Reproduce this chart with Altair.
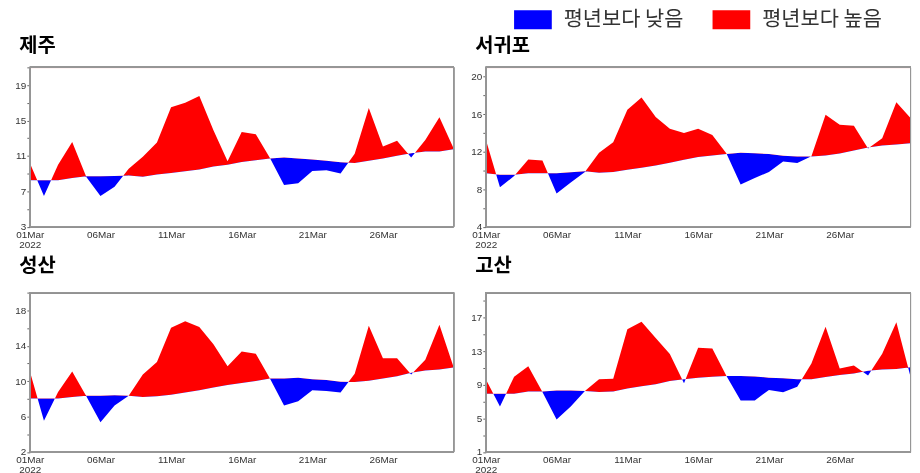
import altair as alt
import pandas as pd

# ---- data ----
days = list(range(1, 32))
dates = [f"2022-03-{d:02d}" for d in days]

stations = ["제주", "서귀포", "성산", "고산"]

obs_jeju = [10.2, 6.45, 10.0, 12.55, 8.6, 6.45, 7.5, 9.55, 10.9, 12.5, 16.5, 17.0, 17.75, 13.9, 10.4,
            13.7, 13.45, 10.75, 7.7, 7.9, 9.3, 9.37, 9.0, 11.25, 16.4, 12.05, 12.7, 10.8, 12.8, 15.35, 11.85]
norm_jeju = [8.25, 8.25, 8.25, 8.5, 8.7, 8.7, 8.73, 8.77, 8.65, 8.9, 9.07, 9.25, 9.45, 9.8, 10.0,
             10.3, 10.5, 10.7, 10.8, 10.7, 10.6, 10.45, 10.27, 10.2, 10.45, 10.7, 11.0, 11.3, 11.5, 11.5, 11.75]

obs_seogwipo = [13.29, 8.2, 9.4, 11.17, 11.06, 7.53, 8.7, 9.83, 11.88, 13.0, 16.47, 17.78, 15.7, 14.46, 14.0,
                14.46, 13.78, 11.8, 8.49, 9.19, 9.83, 10.96, 10.78, 11.5, 15.94, 14.88, 14.77, 12.34, 13.43, 17.28, 15.59]
norm_seogwipo = [9.69, 9.55, 9.55, 9.69, 9.69, 9.69, 9.8, 9.9, 9.76, 9.83, 10.08, 10.29, 10.53, 10.82, 11.14,
                 11.42, 11.6, 11.74, 11.88, 11.84, 11.74, 11.56, 11.49, 11.49, 11.6, 11.8, 12.12, 12.44, 12.65, 12.76, 12.9]

obs_seongsan = [11.12, 5.53, 8.77, 11.08, 8.3, 5.35, 7.25, 8.33, 10.74, 12.16, 16.03, 16.77, 16.1, 14.17, 11.67,
                13.35, 13.09, 10.3, 7.25, 7.73, 8.96, 8.88, 8.7, 10.82, 16.25, 12.57, 12.57, 10.74, 12.42, 16.36, 11.6]
norm_seongsan = [8.03, 8.03, 8.03, 8.21, 8.33, 8.33, 8.4, 8.33, 8.21, 8.29, 8.47, 8.7, 8.96, 9.29, 9.55,
                 9.78, 10.0, 10.3, 10.3, 10.37, 10.22, 10.11, 9.93, 9.89, 10.04, 10.3, 10.56, 10.93, 11.19, 11.3, 11.53]

obs_gosan = [9.65, 6.42, 9.96, 11.22, 8.15, 4.85, 6.42, 8.27, 9.65, 9.73, 15.62, 16.53, 14.6, 12.67, 9.18,
             13.42, 13.34, 10.04, 7.13, 7.13, 8.39, 8.11, 8.78, 11.53, 15.94, 10.94, 11.3, 10.12, 12.71, 16.45, 9.96]
norm_gosan = [7.92, 7.92, 7.92, 8.19, 8.19, 8.31, 8.31, 8.27, 8.15, 8.19, 8.55, 8.82, 9.06, 9.45, 9.65,
              9.84, 9.96, 10.04, 10.04, 10.0, 9.84, 9.77, 9.65, 9.65, 9.92, 10.16, 10.36, 10.67, 10.83, 10.9, 11.1]

y_min = [3, 4, 2, 1]
y_max = [21, 21, 20, 20]
tick_days = [1, 6, 11, 16, 21, 26]

legend_labels = ["평년보다 낮음", "평년보다 높음"]
legend_colors = ["#0000ff", "#ff0000"]

series = [(obs_jeju, norm_jeju), (obs_seogwipo, norm_seogwipo),
          (obs_seongsan, norm_seongsan), (obs_gosan, norm_gosan)]

LABEL_FONT = "Liberation Sans"
KFONT = "Noto Sans CJK KR"

color_scale = alt.Scale(domain=legend_labels, range=legend_colors)
legend = alt.Legend(
    title=None, orient="none", legendX=488, legendY=-67, direction="horizontal",
    symbolType="M-1,-0.5H1V0.5H-1Z", symbolSize=1444, symbolStrokeWidth=0, symbolOpacity=1,
    labelFont=KFONT, labelFontSize=21, labelColor="#333333", labelOffset=12, columnPadding=29,
)


def panel(i, width, title_offset):
    obs, norm = series[i]
    lo, hi = y_min[i], y_max[i]
    df = pd.DataFrame({"date": dates, "obs": obs, "norm": norm})
    xdom = [alt.DateTime(year=2022, month=3, date=1, utc=True),
            alt.DateTime(year=2022, month=3, date=31, utc=True)]
    xaxis = alt.Axis(
        values=[alt.DateTime(year=2022, month=3, date=d, utc=True) for d in tick_days],
        labelExpr="utcdate(datum.value) == 1 ? [utcFormat(datum.value, '%d%b'), '2022'] : utcFormat(datum.value, '%d%b')",
        ticks=False, domain=False, grid=False, labelFlush=False, labelOverlap=False,
        labelFont=LABEL_FONT, labelFontSize=10, labelColor="#333333", labelPadding=3, labelLineHeight=10,
    )
    labeled = f"(datum.value - {lo}) % 4 == 0"
    yaxis = alt.Axis(
        values=list(range(lo, hi + 1, 2)),
        labelExpr=f"{labeled} ? datum.label : ''",
        labelFontSize={"condition": {"test": labeled, "value": 10}, "value": 0},
        domain=False, grid=False, tickSize=3, tickColor="#666666",
        labelOverlap=False, labelSeparation=0,
        labelFont=LABEL_FONT, labelColor="#333333", labelPadding=1,
    )
    x = alt.X("date:T", scale=alt.Scale(type="utc", domain=xdom, nice=False), axis=xaxis, title=None)
    ysc = alt.Scale(domain=[lo, hi], nice=False, zero=False)
    base = alt.Chart(df).encode(x=x)
    # the band between observed and normal (both lobes), then coloured by which side of normal it lies
    band = base.mark_area(color="black").encode(
        y=alt.Y("obs:Q", scale=ysc, axis=yaxis, title=None), y2="norm:Q")
    above = base.transform_calculate(kind=f"'{legend_labels[1]}'").mark_area(blend="lighten").encode(
        y=alt.Y("norm:Q", scale=ysc, axis=yaxis, title=None), y2=alt.Y2(datum=hi),
        color=alt.Color("kind:N", scale=color_scale, legend=legend))
    below = base.transform_calculate(kind=f"'{legend_labels[0]}'").mark_area(blend="lighten").encode(
        y=alt.Y("norm:Q", scale=ysc, axis=yaxis, title=None), y2=alt.Y2(datum=lo),
        color=alt.Color("kind:N", scale=color_scale, legend=legend))
    frame = base.mark_rect(fill=None, stroke="#969696", strokeWidth=1).encode(
        x=alt.X(datum=xdom[0]), x2=alt.X2(datum=xdom[1]),
        y=alt.Y(datum=lo, scale=ysc, axis=yaxis, title=None), y2=alt.Y2(datum=hi))
    return alt.layer(band, above, below, frame).properties(
        width=width, height=160.5,
        title=alt.TitleParams(text=stations[i], anchor="start", frame="bounds", font=KFONT,
                              fontSize=20, fontWeight="bold", color="black", offset=title_offset, dx=4.5),
    )


row1 = alt.hconcat(panel(0, 427, 11), panel(1, 428, 11), spacing=15.5)
row2 = alt.hconcat(panel(2, 427, 16), panel(3, 428, 16), spacing=15.5)
chart = alt.vconcat(row1, row2, spacing=6).properties(
    padding={"left": 6, "top": -9, "right": 0, "bottom": 0}
).configure_view(stroke=None).configure(background="white")

chart.save("out.html", embed_options={"renderer": "svg", "actions": False})
